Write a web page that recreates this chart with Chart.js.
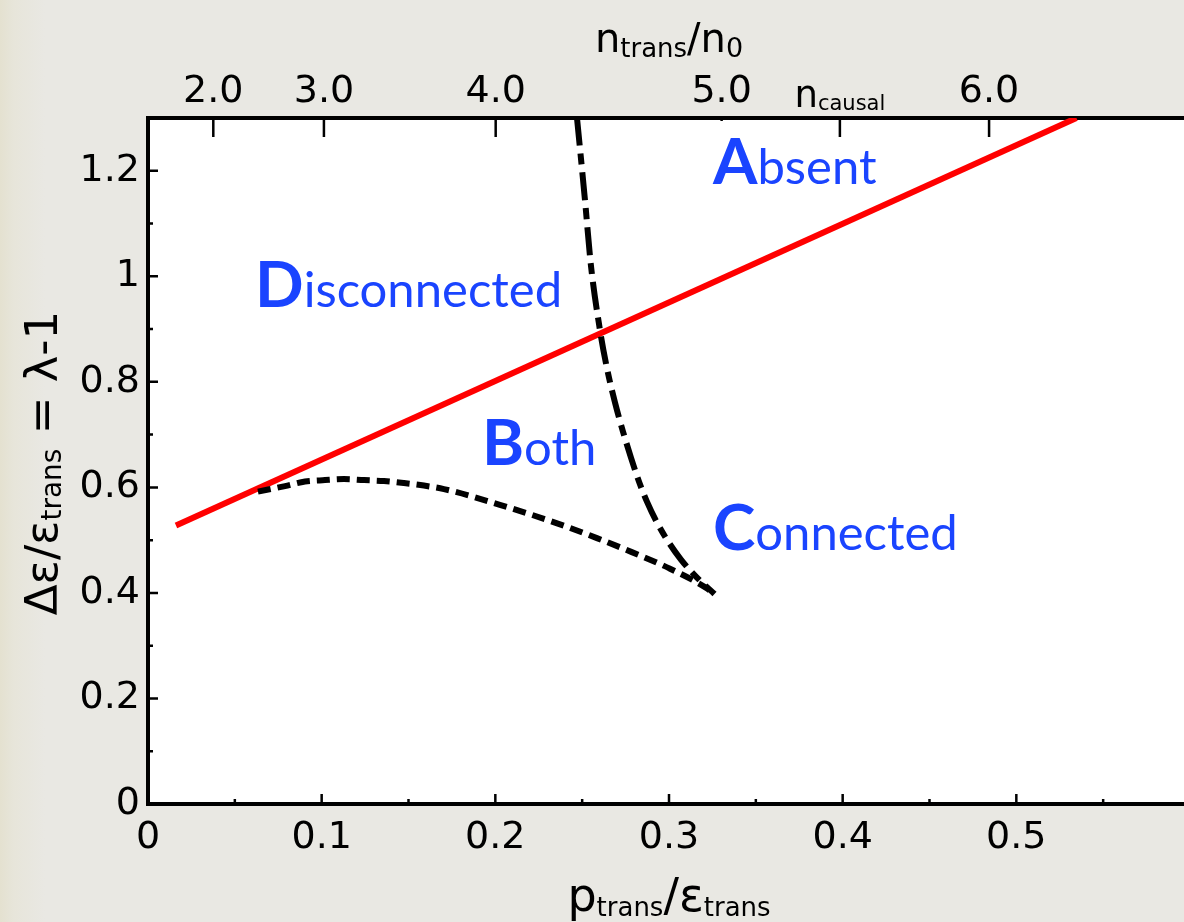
<!DOCTYPE html>
<html>
<head>
<meta charset="utf-8">
<script src="https://cdn.jsdelivr.net/npm/chart.js@4.4.1/dist/chart.umd.min.js"></script>
<style>
  html, body { margin: 0; padding: 0; width: 1184px; height: 922px; overflow: hidden; }
  body { background: linear-gradient(to right, #e4e1d0 0px, #e7e5da 14px, #e9e8e3 45px); }
  canvas { display: block; }
</style>
</head>
<body>
<canvas id="phase" width="1200" height="922"></canvas>
<script>
// Bottom axis: p_trans / eps_trans
const xTicks = [0, 0.1, 0.2, 0.3, 0.4, 0.5];
const xTickLabels = ['0', '0.1', '0.2', '0.3', '0.4', '0.5'];
const xMinor = [0.05, 0.15, 0.25, 0.35, 0.45, 0.55];

// Left axis: delta eps / eps_trans = lambda - 1
const yTicks = [0, 0.2, 0.4, 0.6, 0.8, 1.0, 1.2];
const yTickLabels = ['0', '0.2', '0.4', '0.6', '0.8', '1', '1.2'];
const yMinor = [0.1, 0.3, 0.5, 0.7, 0.9, 1.1];

// Top axis: n_trans / n_0, placed at the matching p_trans / eps_trans
const nTickPos = [0.0376, 0.1013, 0.2002, 0.3303, 0.3984, 0.4843];
const nTickLabels = ['2.0', '3.0', '4.0', '5.0', ['n', 'causal'], '6.0'];

// Red straight boundary
const redP = [0.0161, 0.5346];
const redL = [0.5276, 1.3];

// Short-dashed curve
const dashP = [0.0633, 0.0789, 0.0904, 0.1019, 0.1128, 0.1244, 0.1359, 0.1474, 0.1589, 0.1704,
               0.2026, 0.2360, 0.2585, 0.2786, 0.2999, 0.3212, 0.3262];
const dashL = [0.592, 0.6025, 0.611, 0.6138, 0.6157, 0.6138, 0.612, 0.6082, 0.6034, 0.5968,
               0.567, 0.5314, 0.5039, 0.4773, 0.4470, 0.4100, 0.398];

// Dash-dot curve
const ddP = [0.2470, 0.2516, 0.2550, 0.2602, 0.2642, 0.2689, 0.2735, 0.2781, 0.2827, 0.2873,
             0.2925, 0.2988, 0.3069, 0.3161, 0.3262];
const ddL = [1.3006, 1.1451, 1.0219, 0.8991, 0.8271, 0.7608, 0.7058, 0.6565, 0.6110, 0.5731,
             0.5371, 0.5011, 0.4632, 0.4291, 0.398];

// Region names and where they sit (left edge, baseline)
const regionNames = ['Absent', 'Disconnected', 'Both', 'Connected'];
const regionP = [0.3253, 0.0616, 0.1923, 0.3253];
const regionL = [1.174, 0.941, 0.643, 0.482];

const zip = (xs, ys) => xs.map((x, i) => ({ x: x, y: ys[i] }));

const SANS = "'DejaVu Sans', Verdana, sans-serif";
const REGION_FONT = "Lato, 'Open Sans', sans-serif";
const BLUE = '#1a44ff';

function drawRuns(ctx, runs, x, y, align) {
  let w = 0;
  runs.forEach(r => { ctx.font = r.font; r.w = ctx.measureText(r.text).width; w += r.w; });
  let cx = align === 'center' ? x - w / 2 : x;
  ctx.textAlign = 'left';
  ctx.textBaseline = 'alphabetic';
  runs.forEach(r => { ctx.font = r.font; ctx.fillText(r.text, cx, y + (r.dy || 0)); cx += r.w; });
}

const framePlugin = {
  id: 'frame',
  beforeDraw(chart) {
    const { ctx, chartArea: a } = chart;
    ctx.save();
    ctx.fillStyle = '#ffffff';
    ctx.fillRect(a.left, a.top, a.right - a.left, a.bottom - a.top);
    ctx.restore();
  },
  afterDatasetsDraw(chart) {
    const { ctx, chartArea: a, scales } = chart;
    const sx = scales.x, sy = scales.y, st = scales.xTop;
    ctx.save();
    ctx.strokeStyle = '#000';
    ctx.lineWidth = 2.5;
    ctx.beginPath();
    // inward ticks on the bottom axis
    xTicks.forEach(v => { const p = sx.getPixelForValue(v); ctx.moveTo(p, a.bottom); ctx.lineTo(p, a.bottom - 10); });
    xMinor.forEach(v => { const p = sx.getPixelForValue(v); ctx.moveTo(p, a.bottom); ctx.lineTo(p, a.bottom - 5); });
    // inward ticks on the left axis
    yTicks.forEach(v => { const p = sy.getPixelForValue(v); ctx.moveTo(a.left, p); ctx.lineTo(a.left + 10, p); });
    yMinor.forEach(v => { const p = sy.getPixelForValue(v); ctx.moveTo(a.left, p); ctx.lineTo(a.left + 5, p); });
    // long ticks hanging from the top axis
    nTickPos.forEach((v, i) => {
      const p = st.getPixelForValue(v);
      const len = nTickLabels[i] === '5.0' ? 3 : 19;
      ctx.moveTo(p, a.top); ctx.lineTo(p, a.top + len);
    });
    ctx.stroke();
    ctx.restore();
  },
  afterDraw(chart) {
    const { ctx, chartArea: a, scales } = chart;
    const sx = scales.x, sy = scales.y, st = scales.xTop;
    const cxArea = (a.left + a.right) / 2;
    const cyArea = (a.top + a.bottom) / 2;
    ctx.save();
    ctx.fillStyle = '#000';

    // subscripted labels on the top axis
    nTickPos.forEach((v, i) => {
      const lab = nTickLabels[i];
      if (Array.isArray(lab)) {
        drawRuns(ctx, [
          { text: lab[0], font: '37px ' + SANS },
          { text: lab[1], font: '21px ' + SANS, dy: 3 }
        ], st.getPixelForValue(v), a.top - 11, 'center');
      }
    });

    // top axis title
    drawRuns(ctx, [
      { text: 'n', font: '40px ' + SANS },
      { text: 'trans', font: '26px ' + SANS, dy: 5 },
      { text: '/', font: '40px ' + SANS },
      { text: 'n', font: '40px ' + SANS },
      { text: '0', font: '27px ' + SANS, dy: 5 }
    ], cxArea, a.top - 66, 'center');

    // bottom axis title
    drawRuns(ctx, [
      { text: 'p', font: '46px ' + SANS },
      { text: 'trans', font: '26px ' + SANS, dy: 5 },
      { text: '/', font: '46px ' + SANS },
      { text: '\u03b5', font: '46px ' + SANS },
      { text: 'trans', font: '26px ' + SANS, dy: 5 }
    ], cxArea, a.bottom + 107, 'center');

    // left axis title, rotated
    ctx.save();
    ctx.translate(57, cyArea + 2);
    ctx.rotate(-Math.PI / 2);
    drawRuns(ctx, [
      { text: '\u0394\u03b5/\u03b5', font: '45px ' + SANS },
      { text: 'trans', font: '28px ' + SANS, dy: 4 },
      { text: ' = \u03bb-1', font: '45px ' + SANS }
    ], 0, 0, 'center');
    ctx.restore();

    // region names: large bold capital followed by the rest of the word
    ctx.fillStyle = BLUE;
    regionNames.forEach((name, i) => {
      drawRuns(ctx, [
        { text: name[0], font: 'bold 64px ' + REGION_FONT },
        { text: name.slice(1), font: '49px ' + REGION_FONT }
      ], sx.getPixelForValue(regionP[i]), sy.getPixelForValue(regionL[i]), 'left');
    });
    ctx.restore();
  }
};

const tickFont = { family: SANS, size: 38 };

new Chart(document.getElementById('phase'), {
  type: 'scatter',
  data: {
    datasets: [
      {
        label: 'dash-dot boundary',
        data: zip(ddP, ddL),
        showLine: true, borderColor: '#000', borderWidth: 6, borderDash: [28, 8, 11, 8],
        pointRadius: 0, cubicInterpolationMode: 'monotone', order: 0
      },
      {
        label: 'dashed boundary',
        data: zip(dashP, dashL),
        showLine: true, borderColor: '#000', borderWidth: 6, borderDash: [13, 7],
        pointRadius: 0, cubicInterpolationMode: 'monotone', order: 0
      },
      {
        label: 'red boundary',
        data: zip(redP, redL),
        showLine: true, borderColor: '#ff0000', borderWidth: 6,
        pointRadius: 0, order: 1
      }
    ]
  },
  options: {
    responsive: false,
    animation: false,
    layout: { padding: { left: 0, right: 10, top: 0, bottom: 0 } },
    plugins: { legend: { display: false }, tooltip: { enabled: false } },
    scales: {
      x: {
        type: 'linear', position: 'bottom', min: 0, max: 0.6,
        afterBuildTicks: s => { s.ticks = xTicks.map(v => ({ value: v })); },
        ticks: { callback: (v, i) => xTickLabels[i], font: tickFont, color: '#000', padding: 11, maxRotation: 0, autoSkip: false },
        grid: { display: false, drawTicks: false },
        border: { display: true, width: 4, color: '#000' },
        afterFit: s => { s.height = 118; }
      },
      xTop: {
        type: 'linear', position: 'top', min: 0, max: 0.6,
        afterBuildTicks: s => { s.ticks = nTickPos.map(v => ({ value: v })); },
        ticks: {
          callback: (v, i) => (typeof nTickLabels[i] === 'string' ? nTickLabels[i] : ''),
          font: tickFont, color: '#000', padding: 3, maxRotation: 0, autoSkip: false
        },
        grid: { display: false, drawTicks: false },
        border: { display: true, width: 4, color: '#000' },
        afterFit: s => { s.height = 118; }
      },
      y: {
        type: 'linear', position: 'left', min: 0, max: 1.3,
        afterBuildTicks: s => { s.ticks = yTicks.map(v => ({ value: v })); },
        ticks: { callback: (v, i) => yTickLabels[i], font: tickFont, color: '#000', padding: 8 },
        grid: { display: false, drawTicks: false },
        border: { display: true, width: 4, color: '#000' },
        afterFit: s => { s.width = 148; }
      }
    }
  },
  plugins: [framePlugin]
});
</script>
</body>
</html>
